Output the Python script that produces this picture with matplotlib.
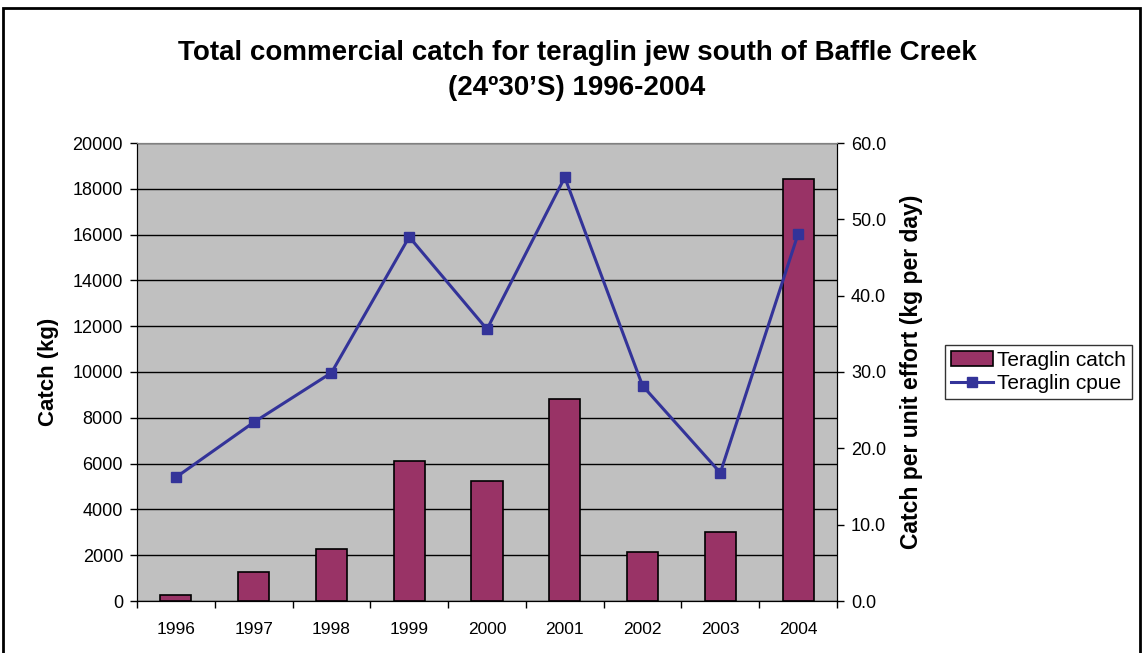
import matplotlib.pyplot as plt
from matplotlib.patches import Rectangle
import numpy as np

plt.rcParams['font.family'] = ['Liberation Sans', 'DejaVu Sans']

years = ['1996', '1997', '1998', '1999', '2000', '2001', '2002', '2003', '2004']
catch_kg = [250, 1280, 2250, 6100, 5230, 8820, 2120, 3000, 18420]
cpue = [16.2, 23.4, 29.9, 47.7, 35.6, 55.5, 28.2, 16.8, 48.1]

fig = plt.figure(figsize=(11.45, 6.53), dpi=100)
ax = fig.add_axes([137 / 1145, 1 - 601 / 653, 700 / 1145, 458 / 653])
ax.set_facecolor('#C0C0C0')

x = np.arange(len(years))
bars = ax.bar(x, catch_kg, width=0.4, color='#993366', edgecolor='black',
              linewidth=1.2, label='Teraglin catch', zorder=3)
ax.set_xlim(-0.5, len(years) - 0.5)
ax.set_ylim(0, 20000)
ax.set_yticks(range(0, 20001, 2000))
ax.grid(axis='y', color='black', linewidth=1, zorder=0)
ax.set_axisbelow(True)
ax.set_xticks(x)
ax.set_xticklabels(years)
ax.set_xticks(np.arange(-0.5, len(years)), minor=True)
ax.tick_params(axis='x', which='major', length=0, pad=15, labelsize=12.5)
ax.tick_params(axis='x', which='minor', length=5, width=1)
ax.tick_params(axis='y', length=5, width=1, labelsize=13, pad=5)
ax.set_ylabel('Catch (kg)', fontsize=16, fontweight='bold', labelpad=10)
ax.spines['top'].set_color('#808080')
ax.spines['right'].set_color('black')

ax2 = ax.twinx()
line, = ax2.plot(x, cpue, color='#333399', linewidth=2.2, marker='s',
                 markersize=7, label='Teraglin cpue', zorder=4)
ax2.set_ylim(0, 60)
ax2.set_yticks(range(0, 61, 10))
ax2.set_yticklabels([f'{v:.1f}' for v in range(0, 61, 10)])
ax2.tick_params(axis='y', length=5, width=1, labelsize=13, pad=5)
ax2.set_ylabel('Catch per unit effort (kg per day)', fontsize=16.5,
               fontweight='bold', labelpad=10)
ax2.spines['top'].set_color('#808080')

fig.text(0.504, 0.919, 'Total commercial catch for teraglin jew south of Baffle Creek',
         ha='center', va='center', fontsize=20, fontweight='bold')
fig.text(0.504, 0.865, '(24º30\u2019S) 1996-2004',
         ha='center', va='center', fontsize=20, fontweight='bold')

fig.legend([bars, line], ['Teraglin catch', 'Teraglin cpue'],
           loc='center left', bbox_to_anchor=(945 / 1145, 1 - 372 / 653),
           fontsize=15, frameon=True, fancybox=False, edgecolor='black',
           borderpad=0.3, handlelength=2.0, handletextpad=0.2,
           labelspacing=0.2, borderaxespad=0)

fig.patches.append(Rectangle((3 / 1145, -0.05), 1137 / 1145, 1.05 - 8 / 653,
                             transform=fig.transFigure, fill=False,
                             edgecolor='black', linewidth=2))

fig.savefig('out.png', dpi=100)
